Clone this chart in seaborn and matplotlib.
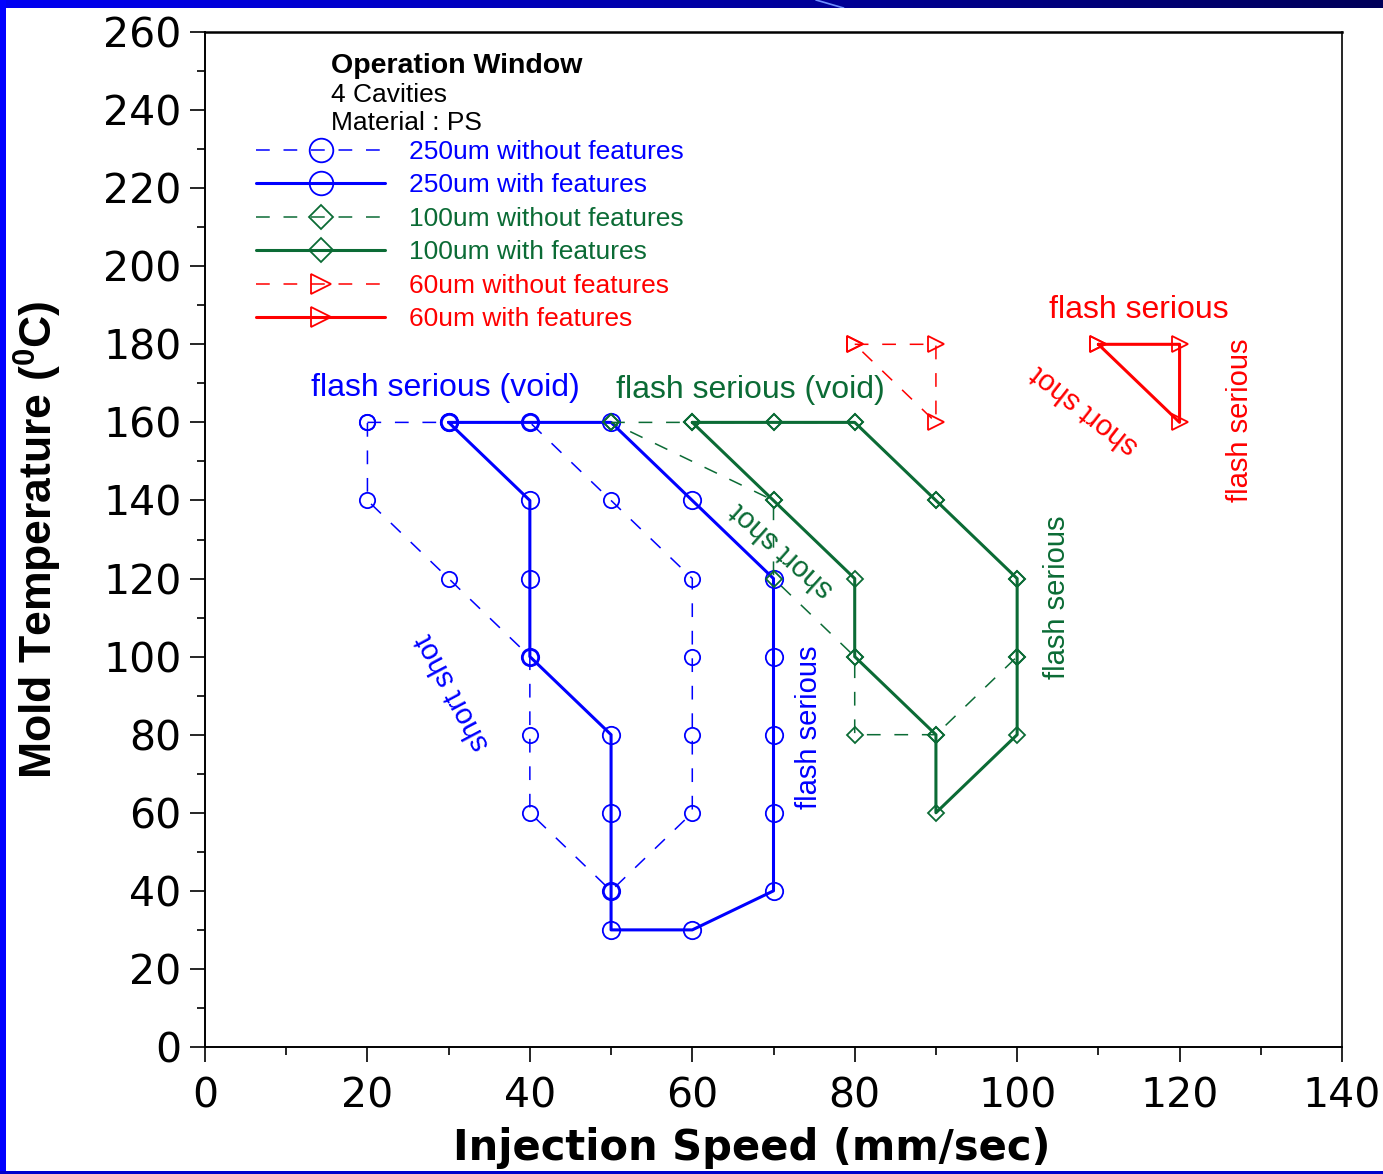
import numpy as np
import pandas as pd
import matplotlib
matplotlib.use("Agg")
import matplotlib.pyplot as plt
import seaborn as sns
from matplotlib.ticker import MultipleLocator

# ---------------- data ----------------
b_nf_x = [20, 30, 40, 50, 60, 60, 60, 60, 50, 40, 40, 40, 30, 20, 20]
b_nf_y = [160, 160, 160, 140, 120, 100, 80, 60, 40, 60, 80, 100, 120, 140, 160]
b_wf_x = [30, 40, 50, 60, 70, 70, 70, 70, 70, 60, 50, 50, 50, 50, 40, 40, 40, 30]
b_wf_y = [160, 160, 160, 140, 120, 100, 80, 60, 40, 30, 30, 40, 60, 80, 100, 120, 140, 160]
g_nf_x = [50, 60, 70, 80, 90, 100, 100, 90, 80, 80, 70, 70, 50]
g_nf_y = [160, 160, 160, 160, 140, 120, 100, 80, 80, 100, 120, 140, 160]
g_wf_x = [60, 70, 80, 90, 100, 100, 100, 90, 90, 80, 80, 70, 60]
g_wf_y = [160, 160, 160, 140, 120, 100, 80, 60, 80, 100, 120, 140, 160]
r_nf_x = [80, 90, 90, 80]
r_nf_y = [180, 180, 160, 180]
r_wf_x = [110, 120, 120, 110]
r_wf_y = [180, 180, 160, 180]

series_labels = ["250um without features", "250um with features",
                 "100um without features", "100um with features",
                 "60um without features", "60um with features"]

x_ticks = [0, 20, 40, 60, 80, 100, 120, 140]
y_ticks = list(range(0, 261, 20))

BLUE = "#0000FF"
GREEN = "#0B6B35"
RED = "#FF0000"

# ---------------- style ----------------
sns.set_theme(style="ticks")
plt.rcParams["font.family"] = ["Liberation Sans", "DejaVu Sans"]
plt.rcParams["mathtext.fontset"] = "custom"
plt.rcParams["mathtext.rm"] = "Liberation Sans"
plt.rcParams["mathtext.bf"] = "Liberation Sans:bold"

fig = plt.figure(figsize=(13.83, 11.74), dpi=100)
fig.patch.set_facecolor("white")
ax = fig.add_axes([205 / 1383, 1 - 1047 / 1174, (1342 - 205) / 1383, (1047 - 32) / 1174])

dash = (0, (9, 9))
specs = [
    (b_nf_x, b_nf_y, BLUE, dash, 1.1, "o", 11, series_labels[0]),
    (b_wf_x, b_wf_y, BLUE, "-", 2.2, "o", 12.5, series_labels[1]),
    (g_nf_x, g_nf_y, GREEN, dash, 1.1, "D", 8, series_labels[2]),
    (g_wf_x, g_wf_y, GREEN, "-", 2.2, "D", 8, series_labels[3]),
    (r_nf_x, r_nf_y, RED, dash, 1.1, ">", 11, series_labels[4]),
    (r_wf_x, r_wf_y, RED, "-", 2.2, ">", 11, series_labels[5]),
]
handles = []
for xs, ys, col, ls, lw, mk, ms, lab in specs:
    df = pd.DataFrame({"x": xs, "y": ys})
    n_before = len(ax.lines)
    sns.lineplot(data=df, x="x", y="y", sort=False, estimator=None, ax=ax,
                 color=col, linestyle=ls, linewidth=lw, marker=mk,
                 markersize=ms, markerfacecolor="none",
                 markeredgecolor=col, markeredgewidth=1.3, label=lab)
    handles.append(ax.lines[n_before])

ax.set_xlim(0, 140)
ax.set_ylim(0, 260)
ax.set_xticks(x_ticks)
ax.set_yticks(y_ticks)
ax.xaxis.set_minor_locator(MultipleLocator(10))
ax.yaxis.set_minor_locator(MultipleLocator(10))
ax.tick_params(which="major", direction="out", length=11, width=1.2,
               labelsize=29.5, color="black", labelcolor="black")
ax.tick_params(axis="x", which="major", pad=10)
ax.tick_params(axis="y", which="major", pad=6)
ax.tick_params(which="minor", direction="out", length=5.5, width=1.2, color="black")
for lbl in ax.get_xticklabels() + ax.get_yticklabels():
    lbl.set_family("DejaVu Sans")
for s in ax.spines.values():
    s.set_visible(True)
    s.set_color("black")
    s.set_linewidth(1.4)
ax.spines["top"].set_linewidth(1.8)
ax.spines["right"].set_linewidth(1.2)

ax.set_xlabel("Injection Speed (mm/sec)", fontsize=30, fontweight="bold",
              color="black", family="DejaVu Sans")
ax.set_ylabel(r"Mold Temperature ($^{\mathbf{0}}$C)", fontsize=32,
              fontweight="bold", color="black")
ax.xaxis.set_label_coords(0.481, -0.079)
ax.yaxis.set_label_coords(-0.124, 0.5)

# ---------------- legend & header ----------------
leg = ax.legend(handles=handles, labels=series_labels, loc="upper left",
                bbox_to_anchor=(0.0449, 0.8936), frameon=False, fontsize=19,
                handlelength=4.9, handletextpad=0.9, labelspacing=0.36,
                borderpad=0, borderaxespad=0, labelcolor="linecolor",
                numpoints=1)
leg_ms = [17, 17, 12, 12, 14, 14]
for h, m in zip(leg.legend_handles, leg_ms):
    h.set_markersize(m)

ax.text(0.1108, 0.9665, "Operation Window", transform=ax.transAxes,
        fontsize=20.5, fontweight="bold", va="center", ha="left", color="black")
ax.text(0.1108, 0.9375, "4 Cavities", transform=ax.transAxes,
        fontsize=19, va="center", ha="left", color="black")
ax.text(0.1108, 0.9105, "Material : PS", transform=ax.transAxes,
        fontsize=19, va="center", ha="left", color="black")

# ---------------- annotations ----------------
ann = [
    (29.6, 168.8, "flash serious (void)", BLUE, 0, 23),
    (67.1, 168.3, "flash serious (void)", GREEN, 0, 23),
    (115.0, 188.8, "flash serious", RED, 0, 23),
    (30.5, 90.9, "short shot", BLUE, 118, 21),
    (71.1, 127.3, "short shot", GREEN, 138, 21),
    (108.3, 163.2, "short shot", RED, 142, 21),
    (74.4, 82.0, "flash serious", BLUE, 90, 21),
    (104.9, 115.3, "flash serious", GREEN, 90, 21),
    (127.5, 160.6, "flash serious", RED, 90, 21),
]
for x, y, t, c, rot, fs in ann:
    ax.text(x, y, t, color=c, rotation=rot, fontsize=fs, ha="center",
            va="center", rotation_mode="anchor")

# ---------------- slide frame decoration ----------------
top = fig.add_axes([0, 1 - 8 / 1174, 1, 8 / 1174])
grad = np.linspace(0, 1, 256)
cols = np.zeros((1, 256, 3))
cols[0, :, 2] = 0.95 - 0.6 * grad
top.imshow(cols, aspect="auto", extent=(0, 1, 0, 1))
top.plot([0.59, 0.61], [1, 0], color="#6F8FFF", lw=1.2)
top.set_xlim(0, 1); top.set_ylim(0, 1)
top.axis("off")
left = fig.add_axes([0, 0, 6 / 1383, 1])
left.set_facecolor(BLUE)
left.set_xticks([]); left.set_yticks([])
for s in left.spines.values():
    s.set_visible(False)
bot = fig.add_axes([0, 0, 1, 3 / 1174])
bot.set_facecolor("#0000CC")
bot.set_xticks([]); bot.set_yticks([])
for s in bot.spines.values():
    s.set_visible(False)

fig.savefig("out.png", dpi=100, facecolor="white")
